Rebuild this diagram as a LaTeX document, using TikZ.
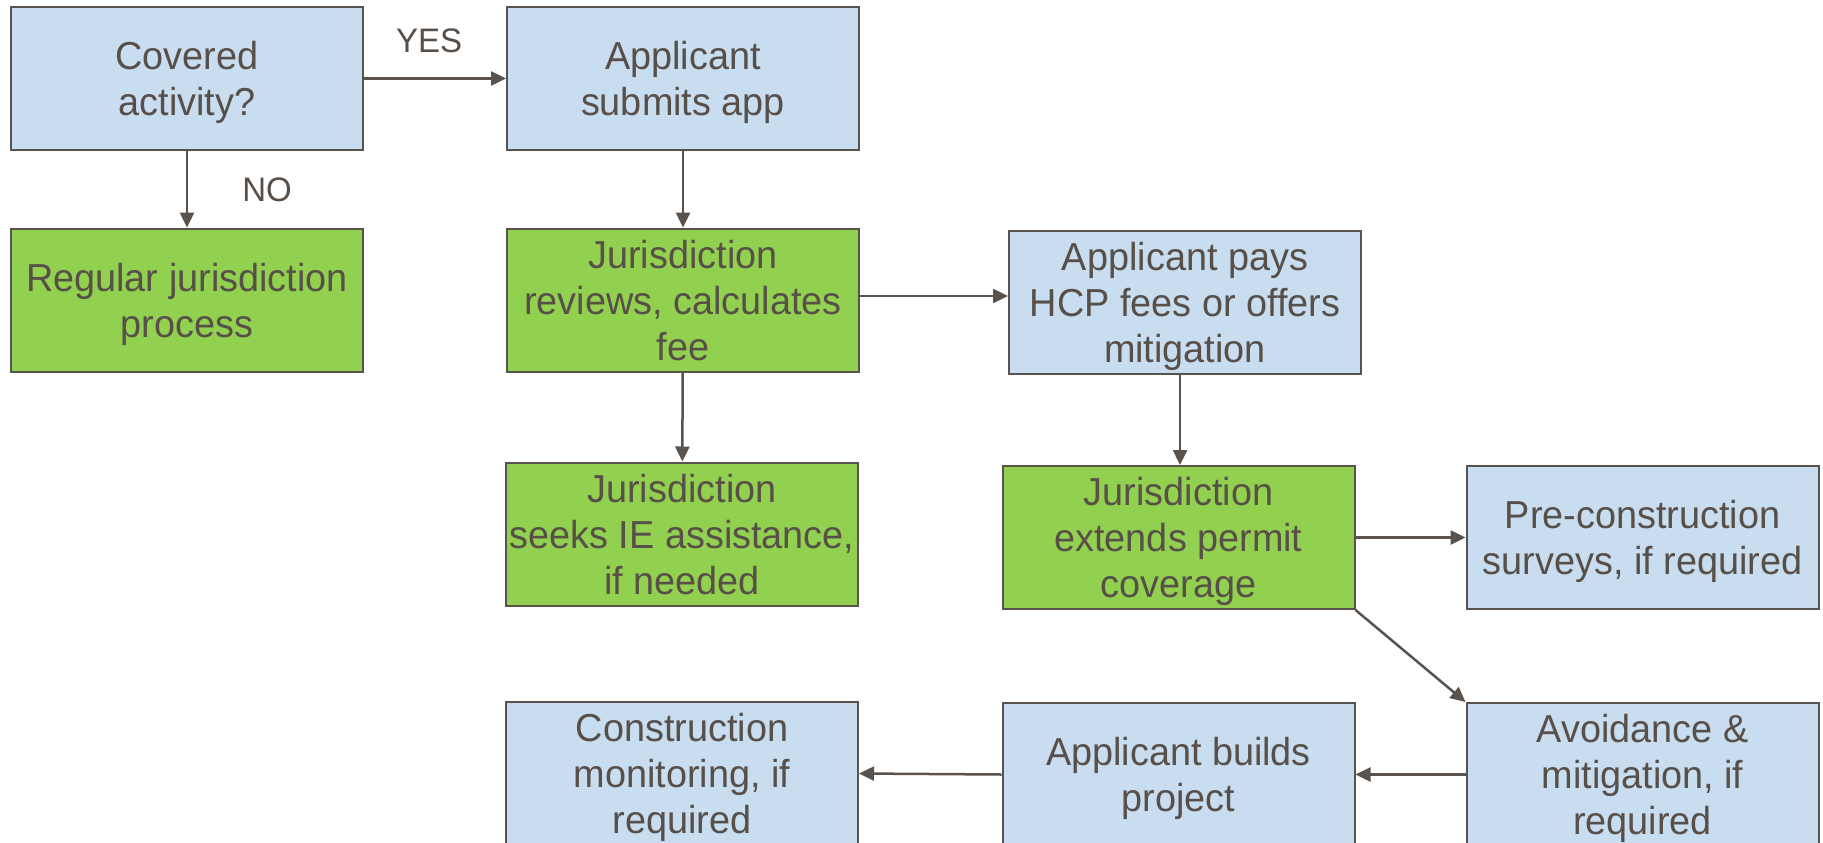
\documentclass[tikz,border=0pt]{standalone}
\usepackage{fontspec}
\setmainfont{Liberation Sans}[FakeStretch=0.97]
\usetikzlibrary{arrows.meta}
\definecolor{boxblue}{HTML}{C8DDF0}
\definecolor{boxgreen}{HTML}{92D050}
\definecolor{edgec}{HTML}{5A524C}
\definecolor{textc}{HTML}{574F48}
\tikzset{
  box/.style={draw=edgec, line width=2bp, minimum width=352bp, minimum height=143bp,
    inner sep=0pt, align=center, text=textc, text depth=0pt,
    font=\fontsize{39bp}{46bp}\selectfont},
  bluebox/.style={box, fill=boxblue},
  greenbox/.style={box, fill=boxgreen},
  arr/.style={draw=edgec, line width=2.5bp, -{Triangle[length=15bp,width=14bp]}},
  lbl/.style={text=textc, font=\fontsize{34bp}{40bp}\selectfont, inner sep=0pt}
}
\begin{document}
\begin{tikzpicture}[x=1bp,y=-1bp]
\useasboundingbox (0,0) rectangle (1823,843);
\fill[white] (0,0) rectangle (1823,843);
\node[bluebox] (A) at (187,78.5) {Covered\\activity?};
\node[bluebox] (B) at (683,78.5) {Applicant\\submits app};
\node[greenbox] (C) at (187,300) {Regular jurisdiction\\process};
\node[greenbox] (D) at (683,300) {Jurisdiction\\reviews, calculates\\fee};
\node[bluebox] (E) at (1185,302) {Applicant pays\\HCP fees or offers\\mitigation};
\node[greenbox] (F) at (682,534) {Jurisdiction\\seeks IE assistance,\\if needed};
\node[greenbox] (G) at (1178.5,537.5) {Jurisdiction\\extends permit\\coverage};
\node[bluebox] (H) at (1642.5,537.5) {Pre-construction\\surveys, if required};
\node[bluebox] (I) at (682,773.5) {Construction\\monitoring, if\\required};
\node[bluebox] (J) at (1178.5,774.5) {Applicant builds\\project};
\node[bluebox] (K) at (1642.5,774.5) {Avoidance \&\\mitigation, if\\required};
\node[lbl] (yes) at (429,41) {YES};
\node[lbl] (no) at (267,190) {NO};
\draw[arr] (A) -- (B);
\draw[arr] (A) -- (C);
\draw[arr] (B) -- (D);
\draw[arr] ([yshift=4bp]D.east) -- ([yshift=4bp]D.east -| E.west);
\draw[arr] (D) -- (F);
\draw[arr] ([xshift=1.5bp]G.north |- E.south) -- ([xshift=1.5bp]G.north);
\draw[arr] (G) -- (H);
\draw[arr] (G.south east) -- (K.north west);
\draw[arr] (K.west) -- (K.west -| J.east);
\draw[arr] (J.west) -- (I.east);
\end{tikzpicture}
\end{document}
